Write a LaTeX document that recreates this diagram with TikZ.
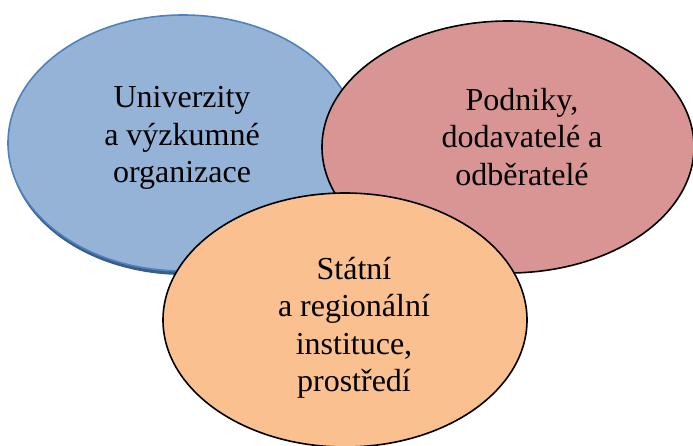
\documentclass[tikz,border=0pt]{standalone}
\usepackage{fontspec}
\setmainfont{Liberation Serif}
\newfontfamily\timesfont{Liberation Serif}
\usetikzlibrary{shapes.geometric}
\definecolor{bluefill}{HTML}{95B3D7}
\definecolor{blueline}{HTML}{4F81BD}
\definecolor{blueshadow}{HTML}{385D8A}
\definecolor{redfill}{HTML}{D99594}
\definecolor{orangefill}{HTML}{FAC090}
\tikzset{
  bubble/.style={ellipse, inner sep=0pt, line width=1.6pt},
  label text/.style={align=center, font=\timesfont\fontsize{32}{37.5}\selectfont, inner sep=0pt}
}
\begin{document}
\begin{tikzpicture}[x=1pt,y=-1pt]
\useasboundingbox (0,0) rectangle (693,445);
\clip (0,0) rectangle (693,445);
% blue ellipse with shadow
\node[bubble, fill=blueshadow, minimum width=350pt, minimum height=256pt] (bshadow) at (184,147) {};
\node[bubble, draw=blueline, fill=bluefill, minimum width=350pt, minimum height=256pt] (blue) at (183,143) {};
\node[label text] (bluetext) at (182,138) {Univerzity\\a výzkumné\\organizace};
% red ellipse
\node[bubble, draw=black, fill=redfill, minimum width=372pt, minimum height=252pt] (red) at (508,147) {};
\node[label text] (redtext) at (522,137) {Podniky,\\dodavatelé a\\odběratelé};
% orange ellipse
\node[bubble, draw=black, fill=orangefill, minimum width=364pt, minimum height=254pt] (orange) at (345,320) {};
\node[label text] (orangetext) at (354,328) {Státní\\a regionální\\instituce,\\prostředí};
\end{tikzpicture}
\end{document}
